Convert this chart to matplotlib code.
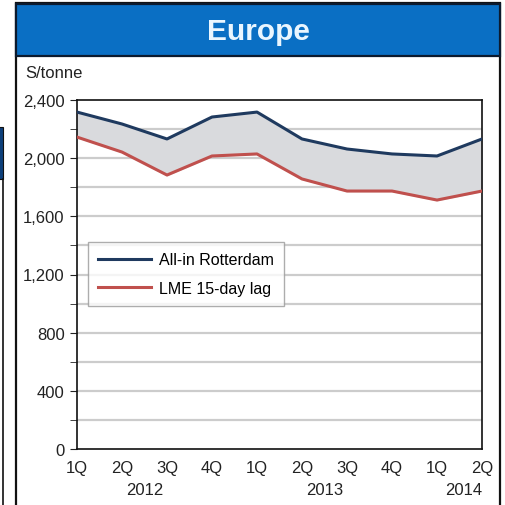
import matplotlib
matplotlib.use("Agg")
import matplotlib.pyplot as plt
from matplotlib.patches import Rectangle
from matplotlib.lines import Line2D

plt.rcParams['font.family'] = ['Liberation Sans', 'DejaVu Sans']

quarters = ["1Q", "2Q", "3Q", "4Q", "1Q", "2Q", "3Q", "4Q", "1Q", "2Q"]
years = ["2012", "2013", "2014"]
year_pos = [1.5, 5.5, 8.6]
all_in_rotterdam = [2317, 2235, 2132, 2283, 2317, 2132, 2063, 2029, 2015, 2132]
lme_15day_lag = [2145, 2042, 1884, 2015, 2029, 1857, 1774, 1774, 1712, 1774]
y_ticks = [0, 400, 800, 1200, 1600, 2000, 2400]

W, H = 505, 506
fig = plt.figure(figsize=(W / 100, H / 100), dpi=100)

def fx(px):
    return px / W

def fy(py):
    return 1 - py / H

# outer panel frame and neighbouring panel edge
fig.add_artist(Rectangle((fx(16), fy(520)), fx(500) - fx(16), fy(4) - fy(520),
                         transform=fig.transFigure, fill=False, ec="#111111", lw=1.6))
fig.add_artist(Rectangle((fx(-2), fy(180)), fx(5), fy(128) - fy(180),
                         transform=fig.transFigure, fc="#0d3f7a", ec="#111111", lw=0.8))
fig.add_artist(Line2D([fx(2.5), fx(2.5)], [fy(180), 0], transform=fig.transFigure,
                      color="#111111", lw=1.2))

# title bar
fig.add_artist(Rectangle((fx(16), fy(57)), fx(500) - fx(16), fy(5) - fy(57),
                         transform=fig.transFigure, fc="#0a6fc4", ec="#0b1a2e", lw=1.6))
fig.text(fx(258), fy(32), "Europe", ha="center", va="center", fontsize=21.5,
         fontweight="bold", color="#eaf6ff")

ax = fig.add_axes([fx(77), fy(450), fx(482) - fx(77), fy(101) - fy(450)])
x = list(range(len(quarters)))

ax.fill_between(x, lme_15day_lag, all_in_rotterdam, color="#d9dadd", zorder=1)
ax.plot(x, all_in_rotterdam, color="#1f3a5f", lw=2.2, label="All-in Rotterdam", zorder=3)
ax.plot(x, lme_15day_lag, color="#c0504d", lw=2.2, label="LME 15-day lag", zorder=3)

ax.set_xlim(0, 9)
ax.set_ylim(0, 2400)
ax.set_yticks(y_ticks)
ax.set_yticklabels([f"{v:,}" for v in y_ticks])
ax.set_yticks(list(range(200, 2400, 400)), minor=True)
for v in range(200, 2400, 200):
    ax.axhline(v, color="#cccccc", lw=1.6, zorder=0)

ax.set_xticks(x)
ax.set_xticklabels(quarters)
ax.tick_params(axis="x", length=0, pad=8, labelsize=12, colors="#222222")
ax.tick_params(axis="y", which="both", length=5, direction="out", labelsize=12,
               colors="#222222", pad=4)
for s in ax.spines.values():
    s.set_color("#111111")
    s.set_linewidth(1.2)

for yr, pos in zip(years, year_pos):
    ax.text(pos, -0.095, yr, transform=ax.get_xaxis_transform(), ha="center",
            va="top", fontsize=12, color="#222222")

fig.text(fx(25), fy(74), "S/tonne", ha="left", va="center", fontsize=12, color="#222222")

leg = ax.legend(loc="upper left", bbox_to_anchor=((88 - 77) / (482 - 77), (450 - 243) / 349),
                frameon=True, fancybox=False, fontsize=11.5, handlelength=3.3,
                borderpad=0.65, labelspacing=0.85, handletextpad=0.5, borderaxespad=0)
leg.get_frame().set_edgecolor("#999999")
leg.get_frame().set_linewidth(1.0)

fig.savefig("out.png", dpi=100)
